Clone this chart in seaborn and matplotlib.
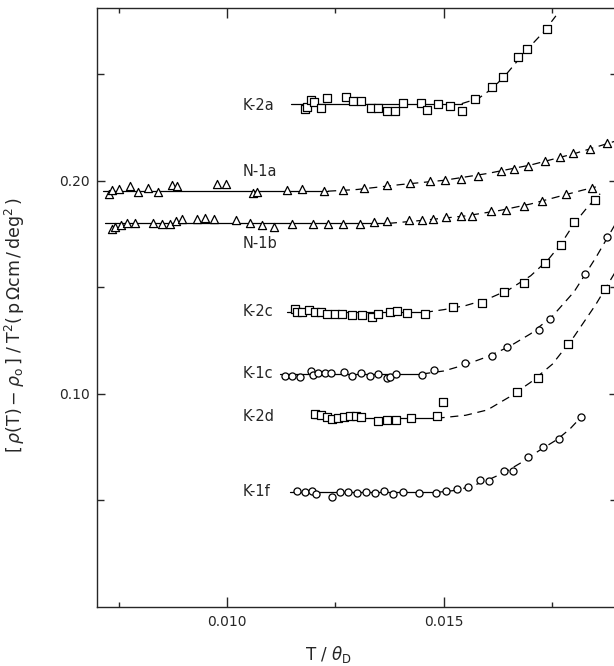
import numpy as np
import pandas as pd
import matplotlib
matplotlib.use("Agg")
import matplotlib.pyplot as plt
from matplotlib.ticker import FixedLocator, FormatStrFormatter
import seaborn as sns

### DATA (T/theta_D , [rho(T)-rho0]/T^2)

# K-2a (squares)
k2a_x = [0.01179, 0.01184, 0.01193, 0.01201, 0.01216, 0.01230, 0.01274, 0.01290, 0.01309, 0.01331,
         0.01349, 0.01368, 0.01388, 0.01406, 0.01446, 0.01461, 0.01486, 0.01515, 0.01541, 0.01571,
         0.01611, 0.01637, 0.01671, 0.01692, 0.01738]
k2a_y = [0.2337, 0.2347, 0.2380, 0.2372, 0.2341, 0.2390, 0.2394, 0.2377, 0.2377, 0.2341,
         0.2341, 0.2329, 0.2327, 0.2366, 0.2365, 0.2333, 0.2363, 0.2352, 0.2330, 0.2387,
         0.2440, 0.2487, 0.2581, 0.2618, 0.2712]
k2a_flat_x = [0.01147, 0.01541]
k2a_flat_y = [0.2363, 0.2363]
k2a_fit_x = [0.01541, 0.0158, 0.0161, 0.0164, 0.0167, 0.0170, 0.0173, 0.01758]
k2a_fit_y = [0.2363, 0.2388, 0.2432, 0.2492, 0.2565, 0.2635, 0.2700, 0.2775]

# N-1a (triangles)
n1a_x = [0.00727, 0.00735, 0.00751, 0.00776, 0.00794, 0.00819, 0.00841, 0.00873, 0.00885, 0.00976,
         0.00998, 0.01060, 0.01069, 0.01138, 0.01172, 0.01223, 0.01267, 0.01315, 0.01369, 0.01421,
         0.01469, 0.01502, 0.01539, 0.01578, 0.01631, 0.01662, 0.01694, 0.01732, 0.01767, 0.01798,
         0.01837, 0.01876]
n1a_y = [0.1940, 0.1958, 0.1961, 0.1977, 0.1946, 0.1969, 0.1950, 0.1981, 0.1977, 0.1986,
         0.1987, 0.1944, 0.1947, 0.1958, 0.1960, 0.1955, 0.1958, 0.1966, 0.1980, 0.1989,
         0.1998, 0.2003, 0.2007, 0.2024, 0.2046, 0.2054, 0.2072, 0.2093, 0.2113, 0.2130,
         0.2149, 0.2180]
n1a_flat_x = [0.00714, 0.01233]
n1a_flat_y = [0.1952, 0.1952]
n1a_fit_x = [0.01233, 0.0130, 0.0140, 0.0150, 0.0160, 0.0170, 0.0180, 0.0190]
n1a_fit_y = [0.1952, 0.1960, 0.1983, 0.2003, 0.2035, 0.2075, 0.2128, 0.2190]

# N-1b (triangles)
n1b_x = [0.00736, 0.00742, 0.00755, 0.00770, 0.00788, 0.00830, 0.00851, 0.00868, 0.00882, 0.00896,
         0.00932, 0.00949, 0.00970, 0.01020, 0.01052, 0.01081, 0.01109, 0.01150, 0.01198, 0.01233,
         0.01268, 0.01306, 0.01339, 0.01369, 0.01419, 0.01450, 0.01475, 0.01504, 0.01540, 0.01565,
         0.01608, 0.01642, 0.01684, 0.01726, 0.01782, 0.01841]
n1b_y = [0.1773, 0.1783, 0.1793, 0.1804, 0.1804, 0.1804, 0.1798, 0.1798, 0.1814, 0.1822,
         0.1822, 0.1825, 0.1822, 0.1817, 0.1801, 0.1793, 0.1785, 0.1798, 0.1800, 0.1798,
         0.1798, 0.1798, 0.1805, 0.1810, 0.1819, 0.1817, 0.1822, 0.1829, 0.1834, 0.1836,
         0.1859, 0.1866, 0.1883, 0.1905, 0.1940, 0.1965]
n1b_flat_x = [0.00719, 0.01373]
n1b_flat_y = [0.1801, 0.1801]
n1b_fit_x = [0.01373, 0.0145, 0.0155, 0.0163, 0.0170, 0.0177, 0.0182, 0.0185]
n1b_fit_y = [0.1801, 0.1815, 0.1836, 0.1862, 0.1892, 0.1930, 0.1957, 0.1972]

# K-2c (squares)
k2c_x = [0.01156, 0.01161, 0.01172, 0.01188, 0.01203, 0.01216, 0.01230, 0.01248, 0.01264, 0.01287,
         0.01311, 0.01335, 0.01348, 0.01375, 0.01392, 0.01414, 0.01456, 0.01522, 0.01588, 0.01638,
         0.01684, 0.01734, 0.01769, 0.01799, 0.01849]
k2c_y = [0.1398, 0.1386, 0.1386, 0.1394, 0.1385, 0.1384, 0.1377, 0.1376, 0.1377, 0.1369,
         0.1369, 0.1360, 0.1376, 0.1386, 0.1390, 0.1379, 0.1375, 0.1406, 0.1426, 0.1477,
         0.1520, 0.1616, 0.1700, 0.1809, 0.1911]
k2c_flat_x = [0.01139, 0.01456]
k2c_flat_y = [0.1383, 0.1383]
k2c_fit_x = [0.01456, 0.0150, 0.0155, 0.0160, 0.0165, 0.0170, 0.0174, 0.0177, 0.0180, 0.0183, 0.0186]
k2c_fit_y = [0.1383, 0.1396, 0.1415, 0.1445, 0.1490, 0.1555, 0.1630, 0.1705, 0.1800, 0.1875, 0.1940]

# K-1c (circles)
k1c_x = [0.01134, 0.01150, 0.01168, 0.01194, 0.01199, 0.01210, 0.01227, 0.01239, 0.01269, 0.01289,
         0.01309, 0.01329, 0.01349, 0.01369, 0.01376, 0.01390, 0.01450, 0.01478, 0.01549, 0.01611,
         0.01646, 0.01719, 0.01744, 0.01826, 0.01876]
k1c_y = [0.1085, 0.1085, 0.1081, 0.1107, 0.1089, 0.1097, 0.1099, 0.1100, 0.1102, 0.1085,
         0.1097, 0.1085, 0.1092, 0.1075, 0.1081, 0.1095, 0.1089, 0.1113, 0.1146, 0.1178,
         0.1222, 0.1300, 0.1352, 0.1563, 0.1738]
k1c_flat_x = [0.01122, 0.01450]
k1c_flat_y = [0.1094, 0.1094]
k1c_fit_x = [0.0145, 0.0150, 0.0155, 0.0160, 0.0165, 0.0170, 0.0175, 0.0180, 0.0185, 0.0190]
k1c_fit_y = [0.1094, 0.1108, 0.1138, 0.1175, 0.1222, 0.1283, 0.1365, 0.1480, 0.1640, 0.1815]

# K-2d (squares)
k2d_x = [0.01203, 0.01217, 0.01230, 0.01242, 0.01256, 0.01270, 0.01284, 0.01298, 0.01309, 0.01348,
         0.01369, 0.01390, 0.01424, 0.01483, 0.01498, 0.01669, 0.01717, 0.01786, 0.01871]
k2d_y = [0.0906, 0.0901, 0.0892, 0.0883, 0.0886, 0.0890, 0.0895, 0.0896, 0.0890, 0.0875,
         0.0878, 0.0878, 0.0886, 0.0898, 0.0960, 0.1011, 0.1074, 0.1235, 0.1492]
k2d_flat_x = [0.01199, 0.01483]
k2d_flat_y = [0.0886, 0.0886]
k2d_fit_x = [0.01483, 0.0155, 0.0160, 0.0165, 0.0170, 0.0175, 0.0180, 0.0185, 0.0190]
k2d_fit_y = [0.0886, 0.0900, 0.0925, 0.0985, 0.1055, 0.1140, 0.1270, 0.1420, 0.1590]

# K-1f (circles)
k1f_x = [0.01161, 0.01179, 0.01197, 0.01206, 0.01241, 0.01260, 0.01279, 0.01300, 0.01321, 0.01342,
         0.01362, 0.01382, 0.01405, 0.01443, 0.01482, 0.01505, 0.01530, 0.01556, 0.01583, 0.01604,
         0.01638, 0.01660, 0.01693, 0.01728, 0.01766, 0.01816]
k1f_y = [0.0546, 0.0538, 0.0546, 0.0532, 0.0515, 0.0538, 0.0538, 0.0536, 0.0538, 0.0536,
         0.0545, 0.0530, 0.0540, 0.0535, 0.0535, 0.0546, 0.0553, 0.0563, 0.0596, 0.0593,
         0.0638, 0.0638, 0.0703, 0.0750, 0.0787, 0.0893]
k1f_flat_x = [0.01145, 0.01482]
k1f_flat_y = [0.0538, 0.0538]
k1f_fit_x = [0.01482, 0.0153, 0.0157, 0.0160, 0.0164, 0.0168, 0.0172, 0.0176, 0.0179, 0.0182]
k1f_fit_y = [0.0538, 0.0548, 0.0572, 0.0595, 0.0632, 0.0680, 0.0735, 0.0785, 0.0835, 0.0900]

# sample labels and where they sit
label_names = ['K-2a', 'N-1a', 'N-1b', 'K-2c', 'K-1c', 'K-2d', 'K-1f']
label_y = [0.2353, 0.2044, 0.1707, 0.1386, 0.1097, 0.0893, 0.0541]
label_x = 0.01035

series = [
    (k2a_x, k2a_y, k2a_flat_x, k2a_flat_y, k2a_fit_x, k2a_fit_y, 's', 26),
    (n1a_x, n1a_y, n1a_flat_x, n1a_flat_y, n1a_fit_x, n1a_fit_y, '^', 34),
    (n1b_x, n1b_y, n1b_flat_x, n1b_flat_y, n1b_fit_x, n1b_fit_y, '^', 34),
    (k2c_x, k2c_y, k2c_flat_x, k2c_flat_y, k2c_fit_x, k2c_fit_y, 's', 26),
    (k1c_x, k1c_y, k1c_flat_x, k1c_flat_y, k1c_fit_x, k1c_fit_y, 'o', 26),
    (k2d_x, k2d_y, k2d_flat_x, k2d_flat_y, k2d_fit_x, k2d_fit_y, 's', 26),
    (k1f_x, k1f_y, k1f_flat_x, k1f_flat_y, k1f_fit_x, k1f_fit_y, 'o', 26),
]

###PLOT
sns.set_style("ticks")
plt.rcParams['font.family'] = ['DejaVu Sans']
plt.rcParams['mathtext.fontset'] = 'dejavusans'

fig = plt.figure(figsize=(6.14, 6.66), dpi=100)
ax = fig.add_axes([0.1577, 0.0886, 0.848, 0.8994])

for xs, ys, fx, fy, cx, cy, mk, sz in series:
    sns.lineplot(x=fx, y=fy, ax=ax, color='black', lw=0.9, sort=False, estimator=None)
    sns.lineplot(x=cx, y=cy, ax=ax, color='black', lw=0.9, sort=False, estimator=None,
                 linestyle=(0, (6.5, 4.5)))
    sns.scatterplot(x=xs, y=ys, ax=ax, marker=mk, s=sz, facecolor='white',
                    edgecolor='black', linewidth=0.9, zorder=3)

for name, ly in zip(label_names, label_y):
    ax.text(label_x, ly, name, ha='left', va='center', fontsize=10.5)

ax.set_xlim(0.0070, 0.0190)
ax.set_ylim(0.0, 0.2812)

ax.xaxis.set_major_locator(FixedLocator([0.010, 0.015]))
ax.xaxis.set_minor_locator(FixedLocator([0.0075, 0.0125, 0.0175]))
ax.yaxis.set_major_locator(FixedLocator([0.10, 0.20]))
ax.yaxis.set_minor_locator(FixedLocator([0.05, 0.15, 0.25]))
ax.xaxis.set_major_formatter(FormatStrFormatter('%.3f'))
ax.yaxis.set_major_formatter(FormatStrFormatter('%.2f'))

ax.tick_params(which='both', direction='in', top=True, right=True, width=1.0, labelsize=10)
ax.tick_params(axis='x', which='major', length=7, pad=6)
ax.tick_params(axis='x', which='minor', length=3.5)
ax.tick_params(axis='y', which='major', length=6, pad=5)
ax.tick_params(axis='y', which='minor', length=5)
for sp in ax.spines.values():
    sp.set_linewidth(1.0)

ax.set_xlabel(r'$\mathrm{T\ /\ }\theta_{\mathrm{D}}$', fontsize=12)
ax.xaxis.set_label_coords(0.445, -0.062)
ax.set_ylabel(r'$[\,\rho(\mathrm{T})\,\mathrm{-}\;\rho_{\mathrm{o}}\,]\;/\;\mathrm{T^2(\,p\,\Omega cm\,/\,deg^2\,)}$',
              fontsize=12.5)
ax.yaxis.set_label_coords(-0.135, 0.47)

fig.savefig('out.png', dpi=100)
